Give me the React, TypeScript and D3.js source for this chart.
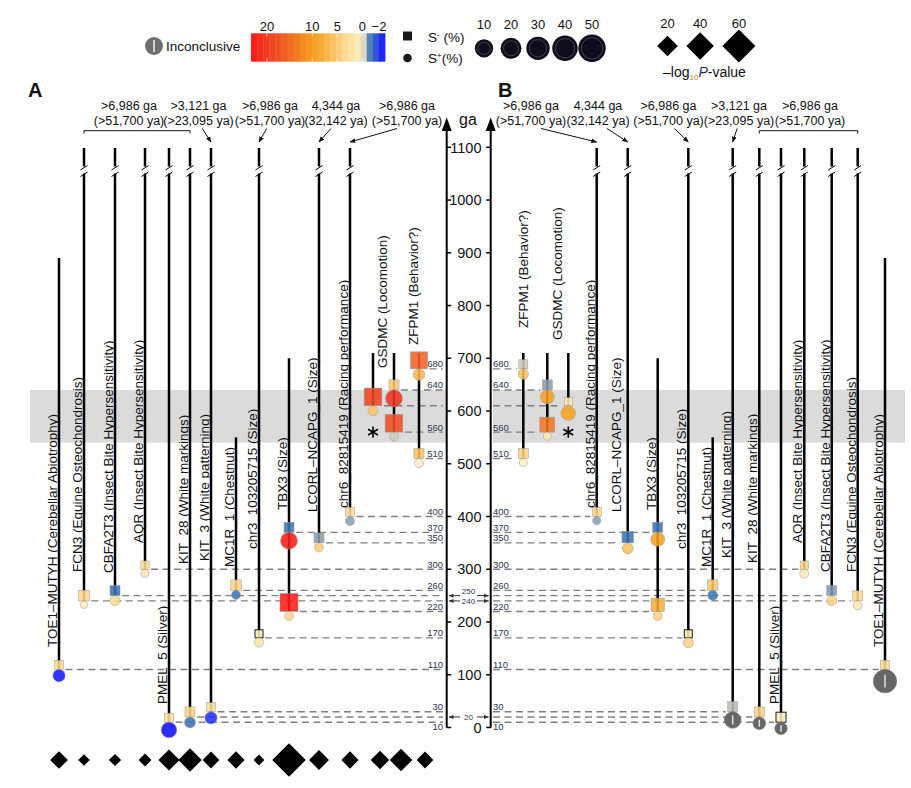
import React from 'react';
import * as d3 from 'd3';

const FONT = "'Liberation Sans', Arial, Helvetica, sans-serif";

// ---------- data ----------
const columns = ['TOE1', 'FCN3', 'CBFA2T3', 'AQR', 'PMEL', 'KIT28', 'KIT3', 'MC1R', 'chr3', 'TBX3', 'LCORL', 'chr6', 'GSDMC_a', 'GSDMC_b', 'ZFPM1'];
const columnLabels = [
  'TOE1–MUTYH (Cerebellar Abiotrophy)',
  'FCN3 (Equine Osteochondrosis)',
  'CBFA2T3 (Insect Bite Hypersensitivity)',
  'AQR (Insect Bite Hypersensitivity)',
  'PMEL_5 (Silver)',
  'KIT_28 (White markings)',
  'KIT_3 (White patterning)',
  'MC1R_1 (Chestnut)',
  'chr3_103205715 (Size)',
  'TBX3 (Size)',
  'LCORL–NCAPG_1 (Size)',
  'chr6_82815419 (Racing performance)',
  '',
  'GSDMC (Locomotion)',
  'ZFPM1 (Behavior?)',
];
// upper end of each variant line in ga; null = beyond the axis (broken line)
const lineTopGa: (number | null)[] = [890, null, null, null, null, null, null, 550, null, 700, null, null, 710, 710, 710];
// -log10 P-value per variant (panel A order)
const pValues = [13, 2, 3, 4, 21, 27, 11, 12, 1, 62, 18, 12, 15, 25, 11];

// [column, ga, S- colour value, S- size %, S+ colour value (null = inconclusive), S+ size %]
type Pair = [string, number, number, number, number | null, number];
const pairsA: Pair[] = [
  ['TOE1', 110, 3.5, 5.2, -2.6, 9.8],
  ['FCN3', 240, 3.5, 7.2, 1, 3.7],
  ['CBFA2T3', 250, -1.1, 6.4, 3, 6.4],
  ['AQR', 300, 3, 4.4, 1.5, 4.1],
  ['PMEL', 10, 3, 5.2, -2.7, 15.5],
  ['KIT28', 20, 4, 6.4, -1, 7.7],
  ['KIT3', 30, 3, 5.2, -2.2, 9.8],
  ['MC1R', 260, 4, 7, -1, 5.2],
  ['chr3', 170, 0.8, 4.1, 2, 5.5],
  ['TBX3', 370, -1, 6.4, 23, 18.4],
  ['TBX3', 220, 23, 20.7, 3.5, 5.2],
  ['LCORL', 350, -0.6, 6.4, 5, 5.2],
  ['chr6', 400, 3, 5.2, -0.6, 5.2],
  ['GSDMC_a', 610, 19, 20, 5.5, 6.4],
  ['GSDMC_b', 640, 5, 6.4, 21, 18.4],
  ['GSDMC_b', 560, 18, 20, -0.25, 5.2],
  ['ZFPM1', 680, 16, 18.4, 7, 8.5],
  ['ZFPM1', 510, 6, 6.4, 0.3, 5.2],
];
const pairsB: Pair[] = [
  ['TOE1', 110, 3.5, 5.2, null, 34.9],
  ['FCN3', 240, 3.5, 6.4, 1.5, 5.2],
  ['CBFA2T3', 250, -0.65, 6.4, 4, 6.4],
  ['AQR', 300, 4, 4.4, 1.5, 5.2],
  ['PMEL', 10, 0.8, 6.4, null, 9.8],
  ['KIT28', 20, 4, 6.4, null, 10.1],
  ['KIT3', 30, -0.35, 6.4, null, 17.6],
  ['MC1R', 260, 5, 7, -1, 6.4],
  ['chr3', 170, 0.8, 4.1, 4, 6.4],
  ['TBX3', 370, -1, 6.4, 10, 12.5],
  ['TBX3', 220, 8, 11.3, 4, 5.2],
  ['LCORL', 350, -1, 8.5, 6, 7.7],
  ['chr6', 400, 3.5, 5.2, -0.6, 4.4],
  ['GSDMC_a', 610, 1, 4.1, 10, 13.6],
  ['GSDMC_b', 640, -0.6, 6.4, 10, 12.5],
  ['GSDMC_b', 560, 14, 14.3, 1.5, 4.1],
  ['ZFPM1', 680, -0.25, 5.2, 6, 6.9],
  ['ZFPM1', 510, 4, 6.4, 0.5, 4.1],
];
const outlinedA = ['chr3'];
const outlinedB = ['chr3', 'PMEL'];
const starsA: [string, number][] = [['GSDMC_a', 560]];
const starsB: [string, number][] = [['GSDMC_a', 560]];

type Note = [string, string, string[]];
const ageNotesA: Note[] = [
  ['>6,986 ga', '(>51,700 ya)', ['FCN3', 'CBFA2T3', 'AQR', 'PMEL', 'KIT28']],
  ['>3,121 ga', '(>23,095 ya)', ['KIT3']],
  ['>6,986 ga', '(>51,700 ya)', ['chr3']],
  ['4,344 ga', '(32,142 ya)', ['LCORL']],
  ['>6,986 ga', '(>51,700 ya)', ['chr6']],
];
const ageNotesB: Note[] = [
  ['>6,986 ga', '(>51,700 ya)', ['chr6']],
  ['4,344 ga', '(32,142 ya)', ['LCORL']],
  ['>6,986 ga', '(>51,700 ya)', ['chr3']],
  ['>3,121 ga', '(>23,095 ya)', ['KIT3']],
  ['>6,986 ga', '(>51,700 ya)', ['KIT28', 'PMEL', 'AQR', 'CBFA2T3', 'FCN3']],
];

const selectionBand = [540, 640];
const gaTicks = d3.range(0, 1101, 100);
const hiddenLevels = [610];
const sharedLevels = [250, 240, 20];
const belowLevels = [10];
const colorTicks = [20, 10, 5, 0, -2];
const sizeTicks = [10, 20, 30, 40, 50];
const pTicks = [20, 40, 60];

// ---------- layout ----------
const colXA = [59, 84, 115, 145, 169, 190, 211, 236, 259, 289, 319, 350, 373, 394, 419];
const colXB = [885, 857.7, 831.7, 804.3, 781, 759.3, 732.7, 712.7, 688.3, 657.7, 627.7, 596.7, 568.3, 547.3, 523.3];
const noteXA = [129, 198.5, 270, 336, 407];
const noteXB = [531, 598, 668.5, 739, 810];
const labelBottomA = [647, 572, 573, 543, 704, 564, 561, 567, 549, 510, 512, 508, 0, 368, 345];
const labelBottomB = [647, 572, 572, 543, 704, 563, 558, 567, 549, 510, 512, 508, 0, 340, 328];
const labelDxA: Record<string, number> = { GSDMC_b: -7, ZFPM1: -1 };
const labelDxB: Record<string, number> = { LCORL: -6.5, GSDMC_b: 14.3, ZFPM1: 5 };
const diamondDx: Record<string, number> = { GSDMC_a: 7, GSDMC_b: 7, ZFPM1: 6 };
const sharedDy: Record<number, number> = { 250: -1.2, 240: 3.2, 20: 3.3 };

export default function App() {
  const y = d3.scaleLinear().domain([0, 1100]).range([727.5, 147.3]);
  const sizeR = d3.scaleSqrt().domain([0, 50]).range([0, 14]);
  const color = d3
    .scaleLinear<string>()
    .domain([-2.7, -2, -1, -0.5, 0, 2.5, 5, 7.5, 10, 15, 20, 24])
    .range(['#1010ff', '#2b3ff0', '#3c78b4', '#a0a8b0', '#fdf0c8', '#fde0a0', '#fcca72', '#f9b044', '#f7a020', '#f26a24', '#ee3b22', '#ff1414'])
    .clamp(true);
  const diamondArea = d3.scaleLinear().domain([0, 60]).range([25, 272]);
  const diamondH = (v: number) => Math.sqrt(diamondArea(v));
  const legendArea = d3.scaleLinear().domain([0, 50]).range([58, 188]);
  const legendR = (v: number) => Math.sqrt(legendArea(v));
  const legendCx = d3.scalePoint<number>().domain(sizeTicks).range([484, 592]);
  const barX = d3.scaleLinear().domain([-2.7, -2, 0, 5, 10, 20, 23.5]).range([385, 379, 362.3, 337.3, 312.3, 267, 251]);
  const star = d3.symbol(d3.symbolAsterisk, 90)() as string;

  const panels = [
    { side: 'A', x: d3.scaleOrdinal<string, number>(columns, colXA), pairs: pairsA, stars: starsA, notes: ageNotesA, noteX: noteXA, outlined: outlinedA, labelBottom: labelBottomA, labelDx: labelDxA, axisX: 446.7, dashEnd: 443, band: [30, 446.7], dir: 1, letterX: 28 },
    { side: 'B', x: d3.scaleOrdinal<string, number>(columns, colXB), pairs: pairsB, stars: starsB, notes: ageNotesB, noteX: noteXB, outlined: outlinedB, labelBottom: labelBottomB, labelDx: labelDxB, axisX: 490.7, dashEnd: 493, band: [493, 905], dir: -1, letterX: 498 },
  ];

  const nBands = 22;
  const bandW = (385 - 251) / nBands;

  const diamondPath = (cx: number, cy: number, h: number) => `M${cx},${cy - h}L${cx + h},${cy}L${cx},${cy + h}L${cx - h},${cy}Z`;

  return (
    <svg width={911} height={788} style={{ display: 'block', position: 'absolute', left: 0, top: 0, fontFamily: FONT }}>
      <defs>
        <marker id="ah" viewBox="0 0 10 10" refX="9" refY="5" markerWidth="6" markerHeight="6" orient="auto-start-reverse">
          <path d="M0,1L10,5L0,9Z" fill="#111" />
        </marker>
        <marker id="ahs" viewBox="0 0 10 10" refX="9" refY="5" markerWidth="5" markerHeight="5" orient="auto-start-reverse">
          <path d="M0,1L10,5L0,9Z" fill="#333" />
        </marker>
      </defs>
      <rect width={911} height={788} fill="#fff" />

      {/* ---------- legend ---------- */}
      <g>
        <circle cx={154} cy={46} r={9} fill="#6e6e6e" />
        <line x1={154} x2={154} y1={40} y2={52} stroke="#eef4fa" strokeWidth={1.5} />
        <text x={166} y={51} fontSize={13.5} fill="#111">Inconclusive</text>
        {d3.range(nBands).map((i) => {
          const x0 = 251 + i * bandW;
          return <rect key={i} x={x0} y={33.3} width={bandW + 0.4} height={28.4} fill={color(barX.invert(x0 + bandW / 2))} />;
        })}
        {colorTicks.map((v) => (
          <g key={v}>
            <text x={barX(v)} y={31} fontSize={13} textAnchor="middle" fill="#111">{v < 0 ? `−${-v}` : v}</text>
            {v > -2 && <line x1={barX(v)} x2={barX(v)} y1={33.3} y2={36.5} stroke="#fff" strokeOpacity={0.7} />}
            {v > -2 && <line x1={barX(v)} x2={barX(v)} y1={58.5} y2={61.7} stroke="#fff" strokeOpacity={0.7} />}
          </g>
        ))}
        <rect x={403} y={31.5} width={9} height={9} fill="#1a1a1a" />
        <text x={428} y={41.5} fontSize={13.5} fill="#111">S<tspan dy={-5} fontSize={8}>-</tspan><tspan dy={5}> (%)</tspan></text>
        <circle cx={407.5} cy={58} r={4.3} fill="#1a1a1a" />
        <text x={428} y={63} fontSize={13.5} fill="#111">S<tspan dy={-5} fontSize={8}>+</tspan><tspan dy={5}>(%)</tspan></text>
        {sizeTicks.map((v) => (
          <g key={v}>
            <text x={legendCx(v)} y={29.3} fontSize={13} textAnchor="middle" fill="#111">{v}</text>
            <circle cx={legendCx(v)} cy={48.3} r={legendR(v)} fill="#0d0d1c" />
            <circle cx={legendCx(v)} cy={48.3} r={legendR(v) - 3} fill="none" stroke="#4d4d60" strokeWidth={0.8} />
          </g>
        ))}
        {(() => {
          let cx = 667.5;
          return pTicks.map((v, i) => {
            const h = diamondH(v);
            if (i > 0) cx += diamondH(pTicks[i - 1]) + h + 8.5;
            return (
              <g key={v}>
                <text x={cx} y={28.3} fontSize={13} textAnchor="middle" fill="#111">{v}</text>
                <path d={diamondPath(cx, 46, h)} fill="#000" />
              </g>
            );
          });
        })()}
        <text x={663} y={77.3} fontSize={14} fill="#111">
          –log<tspan fontSize={8} dy={3} fill="#c8782a">10</tspan>
          <tspan dy={-3} fontStyle="italic" fill="#1d2f6f">P</tspan>-value
        </text>
      </g>

      {/* ---------- panels ---------- */}
      {panels.map((p) => {
        const levels = Array.from(new Set(p.pairs.map((d) => d[1])));
        return (
          <g key={p.side}>
            <rect x={p.band[0]} y={y(selectionBand[1])} width={p.band[1] - p.band[0]} height={y(selectionBand[0]) - y(selectionBand[1])} fill="#dcdbdc" />
            <text x={p.letterX} y={96.5} fontSize={20} fontWeight="bold" fill="#111">{p.side}</text>

            {/* dashed level lines */}
            {p.pairs.map(([col, ga, , ss], i) => {
              const cx = p.x(col);
              const half = sizeR(ss);
              const x1 = p.dir > 0 ? cx + half + 2 : p.dashEnd;
              const x2 = p.dir > 0 ? p.dashEnd : cx - half - 2;
              return <line key={i} x1={x1} x2={x2} y1={y(ga)} y2={y(ga)} stroke="#808080" strokeWidth={1.4} strokeDasharray="7,4.5" />;
            })}
            {levels
              .filter((l) => !hiddenLevels.includes(l) && !sharedLevels.includes(l))
              .map((l) => (
                <text key={l} x={p.dashEnd} y={belowLevels.includes(l) ? y(l) + 8 : y(l) - 1.5} fontSize={9.5} textAnchor={p.dir > 0 ? 'end' : 'start'} fill="#2c3550">{l}</text>
              ))}

            {/* variant lines */}
            {columns.map((col, i) => {
              const cp = p.pairs.filter((d) => d[0] === col);
              const cx = p.x(col);
              const bottom = y(d3.min(cp, (d) => d[1]) as number);
              const top = lineTopGa[i];
              if (top != null) return <line key={col} x1={cx} x2={cx} y1={y(top)} y2={bottom} stroke="#000" strokeWidth={2.5} />;
              return (
                <g key={col} stroke="#000">
                  <line x1={cx} x2={cx} y1={148} y2={166.5} strokeWidth={2.5} />
                  <line x1={cx - 3.5} x2={cx + 3.5} y1={170} y2={165.5} strokeWidth={1} />
                  <line x1={cx - 3.5} x2={cx + 3.5} y1={176.5} y2={172} strokeWidth={1} />
                  <line x1={cx} x2={cx} y1={173.5} y2={bottom} strokeWidth={2.5} />
                </g>
              );
            })}

            {/* markers */}
            {p.pairs.map(([col, ga, sv, ss, cv, cs], i) => {
              const cx = p.x(col);
              const yj = y(ga);
              const half = sizeR(ss);
              const r = sizeR(cs);
              const outlined = p.outlined.includes(col);
              return (
                <g key={i}>
                  <rect x={cx - half} y={yj - 2 * half} width={2 * half} height={2 * half} fill={color(sv)} fillOpacity={0.88} stroke={outlined ? '#1a1a1a' : '#9a9a9a'} strokeWidth={outlined ? 1 : 0.5} />
                  {cv == null ? (
                    <g>
                      <circle cx={cx} cy={yj + r} r={r} fill="#666" stroke="#7a7a7a" strokeWidth={0.6} />
                      <line x1={cx} x2={cx} y1={yj + r - r * 0.55} y2={yj + r + r * 0.55} stroke="#cfe4f6" strokeWidth={1.5} />
                    </g>
                  ) : (
                    <circle cx={cx} cy={yj + r} r={r} fill={color(cv)} fillOpacity={0.88} stroke="#9a9a9a" strokeWidth={0.5} />
                  )}
                </g>
              );
            })}
            {p.stars.map(([col, ga], i) => (
              <path key={i} d={star} transform={`translate(${p.x(col)},${y(ga)})`} fill="none" stroke="#000" strokeWidth={1.6} />
            ))}

            {/* labels */}
            {columns.map((col, i) =>
              columnLabels[i] ? (
                <text key={col} transform={`translate(${p.x(col) + (p.labelDx[col] ?? -2)},${p.labelBottom[i]}) rotate(-90)`} fontSize={13.5} fill="#111">
                  {columnLabels[i]}
                </text>
              ) : null
            )}

            {/* age notes */}
            {p.notes.map(([l1, l2, cols], i) => {
              const nx = p.noteX[i];
              const xs = cols.map((c) => p.x(c));
              return (
                <g key={i}>
                  <text x={nx} y={110} fontSize={12.5} textAnchor="middle" fill="#111">{l1}</text>
                  <text x={nx} y={125} fontSize={12.5} textAnchor="middle" fill="#111">{l2}</text>
                  {cols.length > 1 ? (
                    <path d={`M${d3.min(xs)},133.5V130.7H${d3.max(xs)}V133.5`} fill="none" stroke="#111" strokeWidth={1} />
                  ) : (
                    <line x1={nx + Math.max(-10, Math.min(10, 0.3 * (xs[0] - nx)))} y1={128.5} x2={xs[0]} y2={142} stroke="#111" strokeWidth={1} markerEnd="url(#ah)" />
                  )}
                </g>
              );
            })}

            {/* axis */}
            <line x1={p.axisX} x2={p.axisX} y1={y(0)} y2={128} stroke="#000" strokeWidth={2} />
            <path d={`M${p.axisX},117.5L${p.axisX + 5},131L${p.axisX - 5},131Z`} fill="#000" />
            {gaTicks.map((t) => (
              <line key={t} x1={p.axisX} x2={p.axisX + 4.5 * p.dir} y1={y(t)} y2={y(t)} stroke="#000" strokeWidth={1.5} />
            ))}
          </g>
        );
      })}

      {/* shared tick labels */}
      {gaTicks.map((t) => (
        <text key={t} x={481.5} y={y(t) + 5.2} fontSize={14.5} textAnchor="end" fill="#111">{t}</text>
      ))}
      <text x={468} y={125} fontSize={16} textAnchor="middle" fill="#111">ga</text>

      {/* levels shared by both panels */}
      {sharedLevels.map((l) => (
        <g key={l}>
          <line x1={460} x2={449} y1={y(l)} y2={y(l)} stroke="#333" strokeWidth={1} markerEnd="url(#ahs)" />
          <line x1={477} x2={488.5} y1={y(l)} y2={y(l)} stroke="#333" strokeWidth={1} markerEnd="url(#ahs)" />
          <text x={468.5} y={y(l) + sharedDy[l]} fontSize={8} textAnchor="middle" fill="#2c3550">{l}</text>
        </g>
      ))}

      {/* -log10 P-value diamonds */}
      {columns.map((col, i) => (
        <path key={col} d={diamondPath(colXA[i] + (diamondDx[col] ?? 0), 760, diamondH(pValues[i]))} fill="#000" />
      ))}
    </svg>
  );
}
